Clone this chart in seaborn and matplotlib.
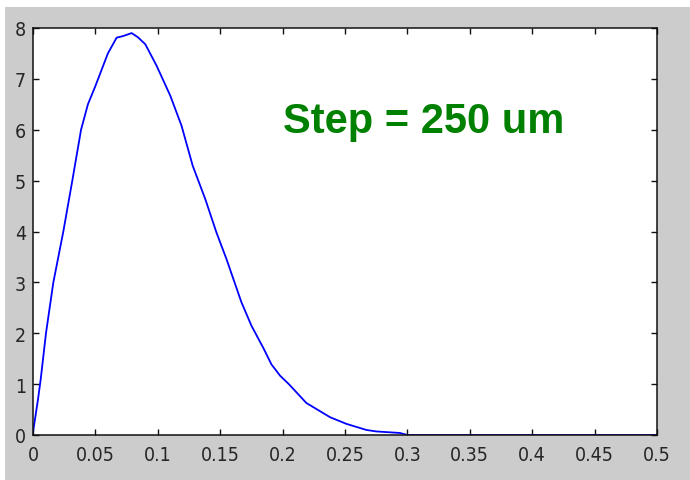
import matplotlib
matplotlib.use("Agg")
import matplotlib.pyplot as plt
from matplotlib.patches import Rectangle
from matplotlib import font_manager
import numpy as np
import pandas as pd
import seaborn as sns

# Profile samples (position vs. value)
position = [0.0, 0.0008, 0.004, 0.0062, 0.0104, 0.0163, 0.0243, 0.0315, 0.0385,
            0.044, 0.05, 0.06, 0.067, 0.072, 0.079, 0.084, 0.09, 0.099, 0.11, 0.119,
            0.128, 0.138, 0.147, 0.155, 0.167, 0.175, 0.185, 0.191, 0.198,
            0.205, 0.219, 0.238, 0.251, 0.267, 0.275, 0.294, 0.30, 0.35,
            0.40, 0.45, 0.50]
value = [0.05, 0.18, 0.7, 1.1, 2.0, 3.0, 4.0, 5.0, 6.0,
         6.5, 6.86, 7.5, 7.81, 7.84, 7.9, 7.82, 7.68, 7.26, 6.67, 6.08,
         5.29, 4.64, 3.98, 3.46, 2.61, 2.15, 1.69, 1.39, 1.165,
         1.0, 0.63, 0.35, 0.22, 0.1, 0.07, 0.04, 0.0, 0.0,
         0.0, 0.0, 0.0]

x_ticks = [0, 0.05, 0.1, 0.15, 0.2, 0.25, 0.3, 0.35, 0.4, 0.45, 0.5]
x_tick_labels = ["0", "0.05", "0.1", "0.15", "0.2", "0.25", "0.3", "0.35", "0.4", "0.45", "0.5"]
y_ticks = [0, 1, 2, 3, 4, 5, 6, 7, 8]
y_tick_labels = ["0", "1", "2", "3", "4", "5", "6", "7", "8"]
annotation = "Step = 250 um"

sns.set_theme(style="white")
plt.rcParams["font.family"] = ["DejaVu Sans"]

W, H = 690, 481
fig = plt.figure(figsize=(W / 100, H / 100), dpi=100)
fig.patch.set_facecolor("white")

# grey figure panel behind the axes
fig.patches.append(Rectangle((5 / W, 0), 1 - 5 / W, (H - 8) / H,
                             transform=fig.transFigure, facecolor="#cccccc",
                             edgecolor="none", zorder=-10))

ax = fig.add_axes([33 / W, (H - 436) / H, (657 - 33) / W, (436 - 29) / H])
ax.set_facecolor("white")

df = pd.DataFrame({"position": position, "value": value})
sns.lineplot(data=df, x="position", y="value", ax=ax, color="#0000ff",
             linewidth=1.3, sort=False, estimator=None)

ax.set_xlim(0, 0.5)
ax.set_ylim(0, 8)
ax.set_xlabel("")
ax.set_ylabel("")

tick_font = font_manager.FontProperties(family="DejaVu Sans", stretch="condensed", size=14)
ax.set_xticks(x_ticks)
ax.set_xticklabels(x_tick_labels, fontproperties=tick_font, color="#262626")
ax.set_yticks(y_ticks)
ax.set_yticklabels(y_tick_labels, fontproperties=tick_font, color="#262626")

for s in ax.spines.values():
    s.set_visible(True)
    s.set_color("#111111")
    s.set_linewidth(1.1)

ax.tick_params(axis="both", which="both", direction="in", length=4, width=1,
               color="#111111", top=True, right=True, bottom=True, left=True)
ax.tick_params(axis="x", pad=7)
ax.tick_params(axis="y", pad=5)

fig.text(283 / W, (H - 133) / H, annotation, color="#008000",
         fontsize=30, fontweight="bold", family=["Liberation Sans", "DejaVu Sans"],
         ha="left", va="baseline")

fig.savefig("out.png", dpi=100, facecolor=fig.get_facecolor())
